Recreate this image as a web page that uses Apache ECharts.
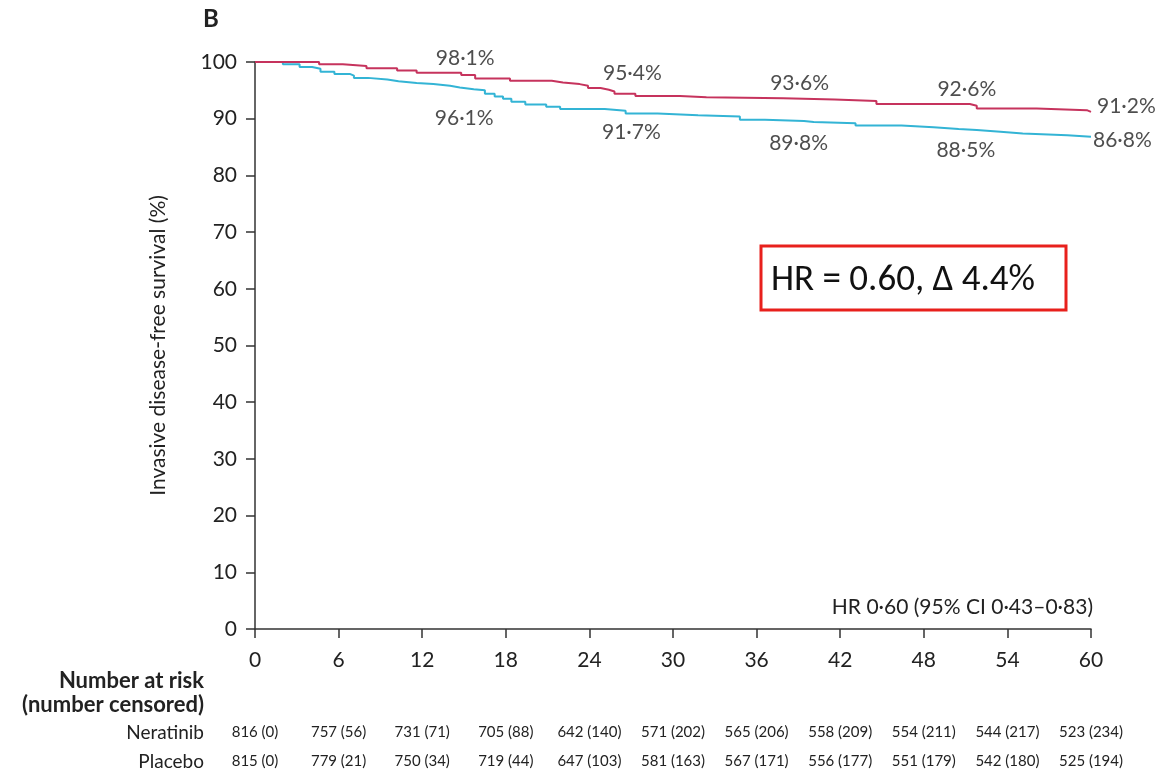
<!DOCTYPE html>
<html><head><meta charset="utf-8">
<script src="https://cdn.jsdelivr.net/npm/echarts@6/dist/echarts.min.js"></script>
<style>html,body{margin:0;padding:0;background:#fff}#c{width:1160px;height:776px}</style>
</head><body><div id="c"></div>
<script>
// ---- data ----
var xTicks = [0, 6, 12, 18, 24, 30, 36, 42, 48, 54, 60];
var neratinibCurve = [[0,100],[4.6,99.6],[6.3,99.3],[8.0,98.9],[10.2,98.5],[11.6,98.1],[14.8,97.7],[15.8,97.1],[18.3,96.7],[21.3,96.4],[22.1,96.1],[23.3,95.8],[23.9,95.4],[24.8,95.1],[25.4,94.8],[25.8,94.4],[27.3,94.0],[30.5,93.8],[32.4,93.6],[37.9,93.4],[41.6,93.1],[44.6,92.6],[51.3,92.3],[51.8,91.8],[56.1,91.5],[59.7,91.2],[60,91.2]];
var placeboCurve = [[0,100],[2.0,99.6],[3.2,99.1],[4.1,98.8],[4.7,98.3],[5.7,97.9],[6.8,97.6],[7.1,97.2],[8.1,96.9],[9.5,96.6],[10.3,96.3],[11.6,96.1],[12.8,95.8],[14.0,95.5],[14.7,95.2],[15.7,95.0],[16.5,94.4],[17.2,93.9],[17.8,93.5],[18.4,93.0],[19.4,92.5],[20.9,92.1],[21.9,91.7],[25.1,91.4],[26.6,90.9],[28.9,90.6],[31.8,90.4],[34.8,89.8],[36.6,89.6],[39.4,89.4],[40.1,89.2],[43.1,88.8],[46.4,88.5],[48.7,88.2],[50.5,88.0],[51.8,87.7],[53.5,87.4],[55.1,87.1],[58.3,86.8],[60,86.8]];
var milestoneMonths = [12, 24, 36, 48, 60];
var neratinibMilestones = ['98·1%', '95·4%', '93·6%', '92·6%', '91·2%'];
var placeboMilestones = ['96·1%', '91·7%', '89·8%', '88·5%', '86·8%'];
var neratinibMilestoneVals = [98.1, 95.4, 93.6, 92.6, 91.2];
var placeboMilestoneVals = [96.1, 91.7, 89.8, 88.5, 86.8];
var neratinibRisk = ['816 (0)','757 (56)','731 (71)','705 (88)','642 (140)','571 (202)','565 (206)','558 (209)','554 (211)','544 (217)','523 (234)'];
var placeboRisk = ['815 (0)','779 (21)','750 (34)','719 (44)','647 (103)','581 (163)','567 (171)','556 (177)','551 (179)','542 (180)','525 (194)'];
var hrText = 'HR 0·60 (95% CI 0·43–0·83)';
var boxText = 'HR = 0.60, Δ 4.4%';

var FONT = 'Lato, "Open Sans", sans-serif';
var RED = '#c6335d', CYAN = '#33b4d5', AX = '#333', TXT = '#222';

function milestoneData(vals, texts, isRed) {
  return milestoneMonths.map(function (m, i) {
    var last = i === milestoneMonths.length - 1;
    var off;
    if (last) off = isRed ? [1, -6] : [-3, 3];
    else off = isRed ? [43, -15] : [42, i === 0 ? 34 : 23];
    return { value: [m, vals[i]], label: { show: true, formatter: texts[i], offset: off,
      position: last ? 'right' : 'inside', align: last ? 'left' : 'center' } };
  });
}

function riskAxis(arr, offset) {
  return { type: 'value', min: 0, max: 60, interval: 6, position: 'bottom', offset: offset,
    axisLine: { show: false }, axisTick: { show: false }, splitLine: { show: false },
    axisLabel: { margin: 6, fontSize: 15, color: TXT, fontFamily: FONT,
      formatter: function (v) { var i = xTicks.indexOf(v); return i >= 0 ? arr[i] : ''; } } };
}

var chart = echarts.init(document.getElementById('c'));
chart.setOption({
  animation: false,
  grid: { left: 255, right: 69, top: 62, bottom: 147, containLabel: false },
  xAxis: [{
    type: 'value', min: 0, max: 60, interval: 6,
    axisLine: { show: true, lineStyle: { color: AX, width: 1.5 } },
    axisTick: { show: true, length: 9, lineStyle: { color: AX, width: 1.5 } },
    splitLine: { show: false },
    axisLabel: { margin: 21, fontSize: 21, color: TXT, fontFamily: FONT }
  }, riskAxis(neratinibRisk, 90), riskAxis(placeboRisk, 119)],
  yAxis: {
    type: 'value', min: 0, max: 100, interval: 10,
    name: 'Invasive disease-free survival (%)', nameLocation: 'middle', nameGap: 86,
    nameTextStyle: { fontSize: 21, color: TXT, fontFamily: FONT },
    axisLine: { show: true, lineStyle: { color: AX, width: 1.5 } },
    axisTick: { show: true, length: 9, lineStyle: { color: AX, width: 1.5 } },
    splitLine: { show: false },
    axisLabel: { margin: 18, fontSize: 21, color: TXT, fontFamily: FONT }
  },
  series: [
    { type: 'line', name: 'Neratinib', step: 'end', data: neratinibCurve, showSymbol: false, symbol: 'none',
      lineStyle: { color: RED, width: 2 }, z: 3 },
    { type: 'line', name: 'Placebo', step: 'end', data: placeboCurve, showSymbol: false, symbol: 'none',
      lineStyle: { color: CYAN, width: 2 }, z: 2 },
    { type: 'scatter', symbolSize: 0, data: milestoneData(neratinibMilestoneVals, neratinibMilestones, true),
      label: { fontSize: 21, color: TXT, fontFamily: FONT }, silent: true },
    { type: 'scatter', symbolSize: 0, data: milestoneData(placeboMilestoneVals, placeboMilestones, false),
      label: { fontSize: 21, color: TXT, fontFamily: FONT }, silent: true }
  ],
  graphic: [
    { type: 'text', left: 203, top: 7, style: { text: 'B', font: 'bold 24px ' + FONT, fill: TXT } },
    { type: 'text', x: 1093, y: 607, style: { text: hrText, font: '21px ' + FONT, fill: TXT, align: 'right', verticalAlign: 'middle' } },
    { type: 'rect', shape: { x: 761, y: 246, width: 305, height: 64 }, style: { fill: 'none', stroke: '#e8201c', lineWidth: 3 } },
    { type: 'text', x: 771, y: 281, style: { text: boxText, font: '37px Carlito, Lato, sans-serif', fill: '#111', verticalAlign: 'middle' } },
    { type: 'text', x: 204, y: 681, style: { text: 'Number at risk', font: 'bold 22px ' + FONT, fill: TXT, align: 'right', verticalAlign: 'middle' } },
    { type: 'text', x: 204, y: 705, style: { text: '(number censored)', font: 'bold 22px ' + FONT, fill: TXT, align: 'right', verticalAlign: 'middle' } },
    { type: 'text', x: 204, y: 733, style: { text: 'Neratinib', font: '19px ' + FONT, fill: TXT, align: 'right', verticalAlign: 'middle' } },
    { type: 'text', x: 204, y: 762, style: { text: 'Placebo', font: '19px ' + FONT, fill: TXT, align: 'right', verticalAlign: 'middle' } }
  ]
});
</script></body></html>
